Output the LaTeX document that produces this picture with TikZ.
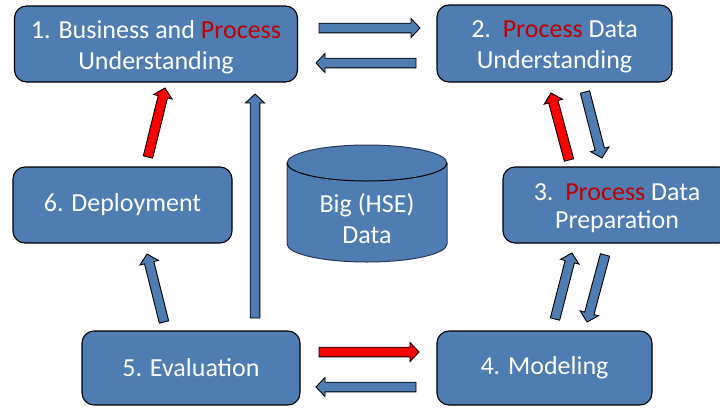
\documentclass[tikz,border=0pt]{standalone}
\usepackage{fontspec}
\setmainfont{Carlito}
\usetikzlibrary{calc}
\definecolor{stageblue}{RGB}{79,124,177}
\definecolor{stagered}{RGB}{192,0,0}
\definecolor{drumline}{RGB}{40,58,88}
\tikzset{
  stage/.style={draw=black, line width=1.1pt, fill=stageblue, rounded corners=12pt,
    text=white, align=center, inner sep=0pt, font=\fontsize{26}{31}\selectfont},
  twoline/.style={text height=56pt, text depth=6pt},
  label/.style={text=white, align=center, inner sep=0pt, font=\fontsize{26}{31}\selectfont},
}
\newcommand{\hl}[1]{\textcolor{stagered}{#1}}
% block arrow: #1 fill, #2 tail, #3 tip
\newcommand{\barrow}[3]{%
  \coordinate (hb) at ($(#3)!9pt!(#2)$);
  \filldraw[fill=#1, draw=black, line width=0.9pt]
    ($(#2)!4.8pt!90:(#3)$) -- ($(hb)!4.8pt!90:(#3)$) -- ($(hb)!9.5pt!90:(#3)$) -- (#3)
    -- ($(hb)!9.5pt!-90:(#3)$) -- ($(hb)!4.8pt!-90:(#3)$) -- ($(#2)!4.8pt!-90:(#3)$) -- cycle;
}

\begin{document}
\begin{tikzpicture}[x=1pt,y=-1pt]
  \useasboundingbox (0,0) rectangle (720,407);

  \node[stage, twoline, minimum width=283, minimum height=76] (b1) at (156,44)
    {1. Business and \hl{Process}\\Understanding};
  \node[stage, twoline, minimum width=235, minimum height=77] (b2) at (554.5,43.5)
    {2.\ \ \hl{Process} Data\\Understanding};
  \node[stage, minimum width=228, minimum height=76, font=\fontsize{26}{27.5}\selectfont,
    text height=52pt, text depth=6pt] (b3) at (617,205)
    {3.\ \ \hl{Process} Data\\Preparation};
  \node[stage, minimum width=215, minimum height=74] (b4) at (544.5,368) {4. Modeling};
  \node[stage, minimum width=218, minimum height=74] (b5) at (191,368) {5. Evaluation};
  \node[stage, minimum width=219, minimum height=76] (b6) at (122.5,205) {6. Deployment};

  % data store
  \filldraw[fill=stageblue, draw=drumline, line width=1pt]
    (287,163) -- (287,244) arc[start angle=180, end angle=360, x radius=80pt, y radius=18pt]
    -- (447,163) arc[start angle=0, end angle=180, x radius=80pt, y radius=18pt] -- cycle;
  \draw[black, line width=1pt] (287,163) arc[start angle=180, end angle=360, x radius=80pt, y radius=18pt];
  \node[label, anchor=base] (data) at (367,243) {Big (HSE)\\Data};

  % arrow ends
  \coordinate (t12) at (319,28);  \coordinate (h12) at (420,28);
  \coordinate (t21) at (416,63);  \coordinate (h21) at (316,63);
  \coordinate (t23) at (585,92);  \coordinate (h23) at (602,158);
  \coordinate (t32) at (569,160); \coordinate (h32) at (551,93);
  \coordinate (t34) at (605,255); \coordinate (h34) at (587,322);
  \coordinate (t43) at (555,319); \coordinate (h43) at (572,253);
  \coordinate (t54) at (319,352); \coordinate (h54) at (419,352);
  \coordinate (t45) at (416,387); \coordinate (h45) at (316,387);
  \coordinate (t56) at (164,322); \coordinate (h56) at (147,254);
  \coordinate (t61) at (148,157); \coordinate (h61) at (165,88);
  \coordinate (t51) at (255,318); \coordinate (h51) at (255,94);

  \barrow{stageblue}{t12}{h12}
  \barrow{stageblue}{t21}{h21}
  \barrow{stageblue}{t23}{h23}
  \barrow{red}{t32}{h32}
  \barrow{stageblue}{t34}{h34}
  \barrow{stageblue}{t43}{h43}
  \barrow{red}{t54}{h54}
  \barrow{stageblue}{t45}{h45}
  \barrow{stageblue}{t56}{h56}
  \barrow{red}{t61}{h61}
  \barrow{stageblue}{t51}{h51}
\end{tikzpicture}
\end{document}
